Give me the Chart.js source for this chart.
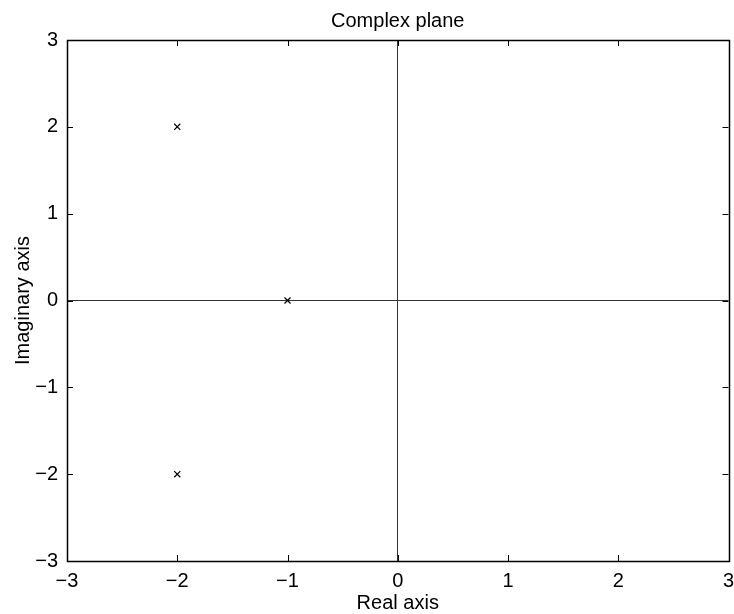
<!DOCTYPE html>
<html>
<head>
<meta charset="utf-8">
<script src="https://cdn.jsdelivr.net/npm/chart.js@4/dist/chart.umd.min.js"></script>
<style>
  html, body { margin: 0; padding: 0; background: #fff; }
  #wrap { width: 734px; height: 614px; }
</style>
</head>
<body>
<div id="wrap"><canvas id="c" width="734" height="614"></canvas></div>
<script>
// pole locations
const poleReal = [-2, -1, -2];
const poleImag = [2, 0, -2];

const xTicks = [-3, -2, -1, 0, 1, 2, 3];
const yTicks = [-3, -2, -1, 0, 1, 2, 3];

const FONT = '"Liberation Sans", Arial, Helvetica, sans-serif';
const fmtTick = v => (v < 0 ? '\u2212' + Math.abs(v) : String(v));

// box round the axes + inward ticks on all four sides (matlab look)
const boxTicks = {
  id: 'boxTicks',
  afterDraw(chart) {
    const { ctx, chartArea: a, scales } = chart;
    const len = 6;
    ctx.save();
    ctx.strokeStyle = '#000';
    ctx.lineWidth = 1;
    ctx.beginPath();
    scales.x.ticks.forEach(t => {
      const px = Math.round(scales.x.getPixelForValue(t.value)) + 0.5;
      ctx.moveTo(px, a.bottom); ctx.lineTo(px, a.bottom - len);
      ctx.moveTo(px, a.top);    ctx.lineTo(px, a.top + len);
    });
    scales.y.ticks.forEach(t => {
      const py = Math.round(scales.y.getPixelForValue(t.value)) + 0.5;
      ctx.moveTo(a.left, py);  ctx.lineTo(a.left + len, py);
      ctx.moveTo(a.right, py); ctx.lineTo(a.right - len, py);
    });
    ctx.stroke();
    ctx.lineWidth = 1.5;
    ctx.strokeRect(Math.round(a.left) + 0.5, Math.round(a.top) + 0.5,
                   Math.round(a.right - a.left), Math.round(a.bottom - a.top));
    ctx.restore();
  }
};

const zeroLine = ctx => (ctx.tick && ctx.tick.value === 0 ? '#333' : 'rgba(0,0,0,0)');

new Chart(document.getElementById('c'), {
  type: 'scatter',
  data: {
    datasets: [{
      data: poleReal.map((x, i) => ({ x, y: poleImag[i] })),
      pointStyle: 'crossRot',
      pointRadius: 4.3,
      pointHoverRadius: 4.3,
      borderColor: '#000',
      borderWidth: 1.2,
      showLine: false
    }]
  },
  options: {
    responsive: false,
    animation: false,
    layout: { padding: { left: 0, right: 5, top: 0, bottom: 0 } },
    plugins: {
      legend: { display: false },
      tooltip: { enabled: false },
      title: {
        display: true,
        text: 'Complex plane',
        fullSize: false,
        color: '#000',
        font: { family: FONT, size: 20, weight: 'normal', lineHeight: 1 },
        padding: { top: 11, bottom: 9 }
      }
    },
    scales: {
      x: {
        type: 'linear',
        min: -3, max: 3,
        afterBuildTicks: s => { s.ticks = xTicks.map(v => ({ value: v })); },
        afterFit: s => { s.height = 53; s.paddingLeft = 0; s.paddingRight = 0; },
        grid: { color: zeroLine, drawTicks: false, lineWidth: 1 },
        border: { display: false },
        ticks: {
          autoSkip: false, maxRotation: 0, padding: 8,
          color: '#000', font: { family: FONT, size: 20 },
          callback: fmtTick
        },
        title: {
          display: true, text: 'Real axis', color: '#000',
          font: { family: FONT, size: 20, lineHeight: 1 },
          padding: { top: 0, bottom: 1 }
        }
      },
      y: {
        type: 'linear',
        min: -3, max: 3,
        afterBuildTicks: s => { s.ticks = yTicks.map(v => ({ value: v })); },
        afterFit: s => { s.width = 67; s.paddingTop = 0; s.paddingBottom = 0; },
        grid: { color: zeroLine, drawTicks: false, lineWidth: 1 },
        border: { display: false },
        ticks: {
          autoSkip: false, padding: 9,
          color: '#000', font: { family: FONT, size: 20 },
          callback: fmtTick
        },
        title: {
          display: true, text: 'Imaginary axis', color: '#000',
          font: { family: FONT, size: 20, lineHeight: 1 },
          padding: { top: 13, bottom: 0 }
        }
      }
    }
  },
  plugins: [boxTicks]
});
</script>
</body>
</html>
